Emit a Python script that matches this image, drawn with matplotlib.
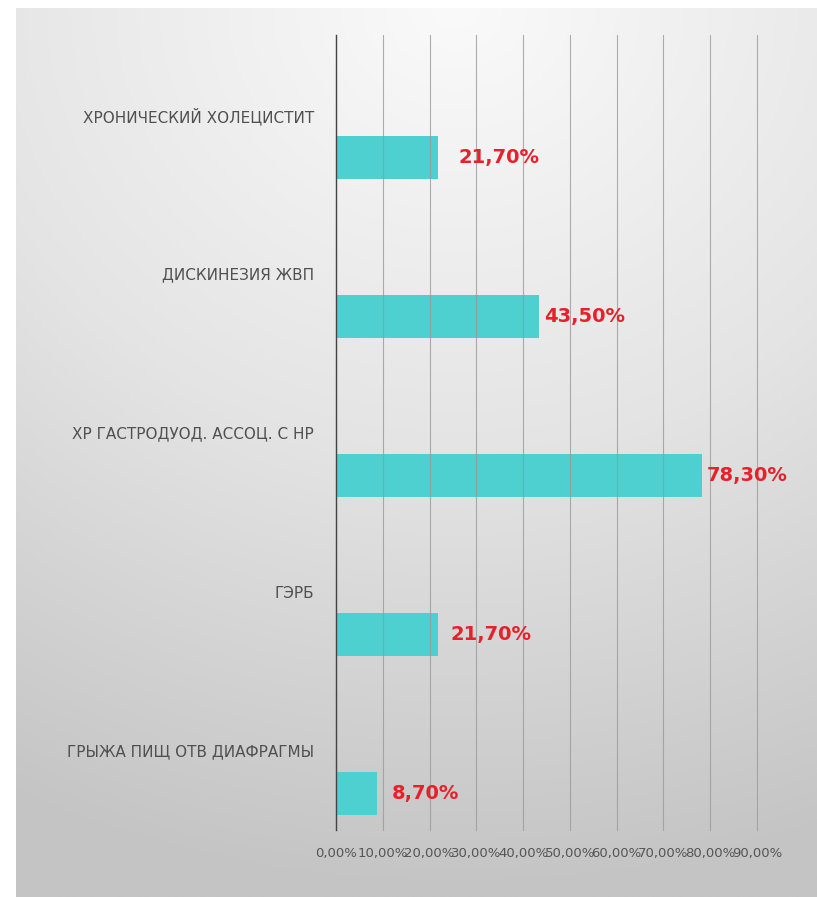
import numpy as np
import matplotlib
matplotlib.use("Agg")
import matplotlib.pyplot as plt
from matplotlib.colors import LinearSegmentedColormap

categories = ["ГРЫЖА ПИЩ ОТВ ДИАФРАГМЫ", "ГЭРБ", "ХР ГАСТРОДУОД. АССОЦ. С НР",
              "ДИСКИНЕЗИЯ ЖВП", "ХРОНИЧЕСКИЙ ХОЛЕЦИСТИТ"]
values = [8.7, 21.7, 78.3, 43.5, 21.7]
value_labels = ["8,70%", "21,70%", "78,30%", "43,50%", "21,70%"]
label_offsets = [11, 9, 3, 3, 15]
xticks = [0, 10, 20, 30, 40, 50, 60, 70, 80, 90]
xtick_labels = ["0,00%", "10,00%", "20,00%", "30,00%", "40,00%", "50,00%",
                "60,00%", "70,00%", "80,00%", "90,00%"]

W, H = 817, 897
fig = plt.figure(figsize=(W / 100, H / 100), dpi=100)
fig.patch.set_facecolor("white")

# background gradient panel
bg = fig.add_axes([16 / W, 0, 1 - 16 / W, 1 - 8 / H])
bg.set_axis_off()
yy, xx = np.mgrid[0:1:300j, 0:1:300j]
r = np.sqrt(((xx - 0.55) * 0.8) ** 2 + (yy * 1.0) ** 2)
cmap = LinearSegmentedColormap.from_list("g", ["#fafafa", "#e4e4e4", "#c4c4c4"])
bg.imshow(r, cmap=cmap, aspect="auto", extent=[0, 1, 1, 0], vmin=0, vmax=1.0)
bg.set_xlim(0, 1)
bg.set_ylim(1, 0)

# main plot area
left, right = 336 / W, 757 / W
top, bottom = 35 / H, 830 / H
ax = fig.add_axes([left, 1 - bottom, right - left, bottom - top])
ax.set_facecolor("none")
ax.set_xlim(0, 90)
ax.set_ylim(-0.5, 4.5)

ypos = np.arange(len(categories))
bar_y = ypos - 0.27
ax.barh(bar_y, values, height=0.27, color="#4ecfd0", zorder=2)

for y, v, lab, off in zip(bar_y, values, value_labels, label_offsets):
    ax.annotate(lab, (v, y), xytext=(off, 0), textcoords="offset points",
                va="center", ha="left", color="#e8202a", fontsize=14,
                fontweight="semibold", family="DejaVu Sans", zorder=4)

ax.set_xticks(xticks)
ax.set_xticklabels(xtick_labels, fontsize=9.5, color="#555555")
ax.set_yticks(ypos)
ax.set_yticklabels(categories, fontsize=11, color="#505050")
ax.tick_params(axis="both", length=0)
ax.tick_params(axis="x", pad=12)
ax.tick_params(axis="y", pad=16)
ax.grid(axis="x", color="#9a9a9a", linewidth=0.8, alpha=0.8, zorder=3)
for gl in ax.get_xgridlines():
    gl.set_clip_on(False)
ax.set_axisbelow(False)
for s in ["top", "right", "bottom"]:
    ax.spines[s].set_visible(False)
ax.spines["left"].set_color("#444444")
ax.spines["left"].set_linewidth(1.0)
ax.spines["left"].set_zorder(5)

fig.savefig("out.png", dpi=100)
